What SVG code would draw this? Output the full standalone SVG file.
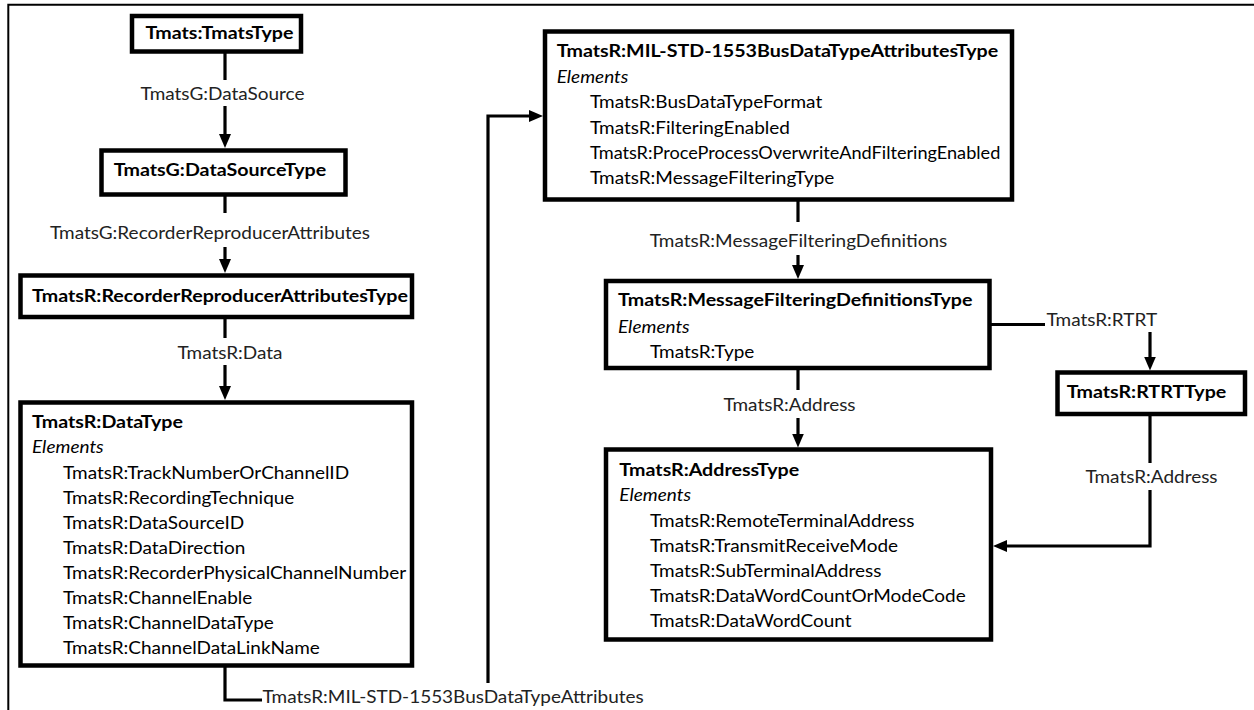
<svg xmlns="http://www.w3.org/2000/svg" width="1254" height="710" viewBox="0 0 1254 710">
<style>
.box{fill:#fff;stroke:#000;stroke-width:4.5}
.ln{fill:none;stroke:#000;stroke-width:3.2}
text{font-family:Lato,"Liberation Sans",sans-serif;font-size:16.5px;fill:#000}
.b{font-weight:bold}
.i{font-style:italic}
.lbl{fill:#222}
.m{text-anchor:middle}
</style>
<defs>
<marker id="ah" viewBox="0 0 14 12" refX="6" refY="6" markerWidth="14" markerHeight="12" markerUnits="userSpaceOnUse" orient="auto">
<path d="M0,0 L14,6 L0,12 z" fill="#000"/>
</marker>
</defs>
<rect width="1254" height="710" fill="#fff"/>
<path d="M8.3,710 V4.7 H1254" fill="none" stroke="#000" stroke-width="2"/>

<g id="connectors">
<path class="ln" d="M225,52 V80"/>
<path class="ln" d="M225,106 V140" marker-end="url(#ah)"/>
<text class="lbl m" transform="translate(222.5,100) scale(1.15,1)">TmatsG:DataSource</text>
<path class="ln" d="M225,195 V213"/>
<path class="ln" d="M225,247 V265" marker-end="url(#ah)"/>
<text class="lbl m" transform="translate(210,239) scale(1.15,1)">TmatsG:RecorderReproducerAttributes</text>
<path class="ln" d="M225,318 V338"/>
<path class="ln" d="M225,365 V392" marker-end="url(#ah)"/>
<text class="lbl m" transform="translate(230,359) scale(1.15,1)">TmatsR:Data</text>
<path class="ln" d="M225,665 V700 H262"/>
<text class="lbl" transform="translate(262.5,703) scale(1.15,1)">TmatsR:MIL-STD-1553BusDataTypeAttributes</text>
<path class="ln" d="M488,683 V116 H535" marker-end="url(#ah)"/>
<path class="ln" d="M798,200 V222"/>
<path class="ln" d="M798,255 V271" marker-end="url(#ah)"/>
<text class="lbl m" transform="translate(798.5,247) scale(1.15,1)">TmatsR:MessageFilteringDefinitions</text>
<path class="ln" d="M798,368 V390"/>
<path class="ln" d="M798,418 V439.5" marker-end="url(#ah)"/>
<text class="lbl m" transform="translate(789.5,411) scale(1.15,1)">TmatsR:Address</text>
<path class="ln" d="M990,324.5 H1045"/>
<text class="lbl" transform="translate(1046.5,326) scale(1.15,1)">TmatsR:RTRT</text>
<path class="ln" d="M1150,332 V362.5" marker-end="url(#ah)"/>
<path class="ln" d="M1150,414 V463"/>
<text class="lbl m" transform="translate(1151.5,483) scale(1.15,1)">TmatsR:Address</text>
<path class="ln" d="M1150,490 V546 H1001" marker-end="url(#ah)"/>
</g>

<g id="tmatsType">
<rect class="box" x="132" y="16" width="169" height="35.5"/>
<text class="b m" transform="translate(219.5,39) scale(1.19,1)">Tmats:TmatsType</text>
</g>

<g id="dataSourceType">
<rect class="box" x="101.5" y="150.5" width="244" height="44"/>
<text class="b m" transform="translate(220,176) scale(1.19,1)">TmatsG:DataSourceType</text>
</g>

<g id="recorderReproducerAttributesType">
<rect class="box" x="20.5" y="275.5" width="391.5" height="41.5"/>
<text class="b" transform="translate(32,302) scale(1.19,1)">TmatsR:RecorderReproducerAttributesType</text>
</g>

<g id="dataType">
<rect class="box" x="20.5" y="402.5" width="391.5" height="263"/>
<g transform="translate(32,0) scale(1.19,1)"><text class="b" y="428">TmatsR:DataType</text></g>
<g transform="translate(32,0) scale(1.15,1)"><text class="i" y="453">Elements</text></g>
<g transform="translate(63,0) scale(1.15,1)">
<text y="479">TmatsR:TrackNumberOrChannelID</text>
<text y="504">TmatsR:RecordingTechnique</text>
<text y="529">TmatsR:DataSourceID</text>
<text y="554">TmatsR:DataDirection</text>
<text y="579">TmatsR:RecorderPhysicalChannelNumber</text>
<text y="604">TmatsR:ChannelEnable</text>
<text y="629">TmatsR:ChannelDataType</text>
<text y="654">TmatsR:ChannelDataLinkName</text>
</g>
</g>

<g id="milStd1553BusDataTypeAttributesType">
<rect class="box" x="545" y="31.5" width="467" height="168"/>
<g transform="translate(556.7,0) scale(1.19,1)"><text class="b" y="57.3">TmatsR:MIL-STD-1553BusDataTypeAttributesType</text></g>
<g transform="translate(556.7,0) scale(1.15,1)"><text class="i" y="83">Elements</text></g>
<g transform="translate(590,0) scale(1.15,1)">
<text y="108">TmatsR:BusDataTypeFormat</text>
<text y="134">TmatsR:FilteringEnabled</text>
<text y="184">TmatsR:MessageFilteringType</text>
</g>
<g transform="translate(590,0) scale(1.1,1)"><text y="159">TmatsR:ProceProcessOverwriteAndFilteringEnabled</text></g>
</g>

<g id="messageFilteringDefinitionsType">
<rect class="box" x="606" y="281" width="383.5" height="87"/>
<g transform="translate(618,0) scale(1.19,1)"><text class="b" y="306.5">TmatsR:MessageFilteringDefinitionsType</text></g>
<g transform="translate(618,0) scale(1.15,1)"><text class="i" y="333">Elements</text></g>
<g transform="translate(650,0) scale(1.15,1)"><text y="358">TmatsR:Type</text></g>
</g>

<g id="rtrtType">
<rect class="box" x="1057.5" y="372.5" width="187.5" height="41.5"/>
<text class="b m" transform="translate(1146.5,398) scale(1.19,1)">TmatsR:RTRTType</text>
</g>

<g id="addressType">
<rect class="box" x="606" y="449.5" width="385" height="190"/>
<g transform="translate(619.3,0) scale(1.19,1)"><text class="b" y="476">TmatsR:AddressType</text></g>
<g transform="translate(619.3,0) scale(1.15,1)"><text class="i" y="501.5">Elements</text></g>
<g transform="translate(650,0) scale(1.15,1)">
<text y="527">TmatsR:RemoteTerminalAddress</text>
<text y="552">TmatsR:TransmitReceiveMode</text>
<text y="577">TmatsR:SubTerminalAddress</text>
<text y="602">TmatsR:DataWordCountOrModeCode</text>
<text y="627">TmatsR:DataWordCount</text>
</g>
</g>
</svg>
